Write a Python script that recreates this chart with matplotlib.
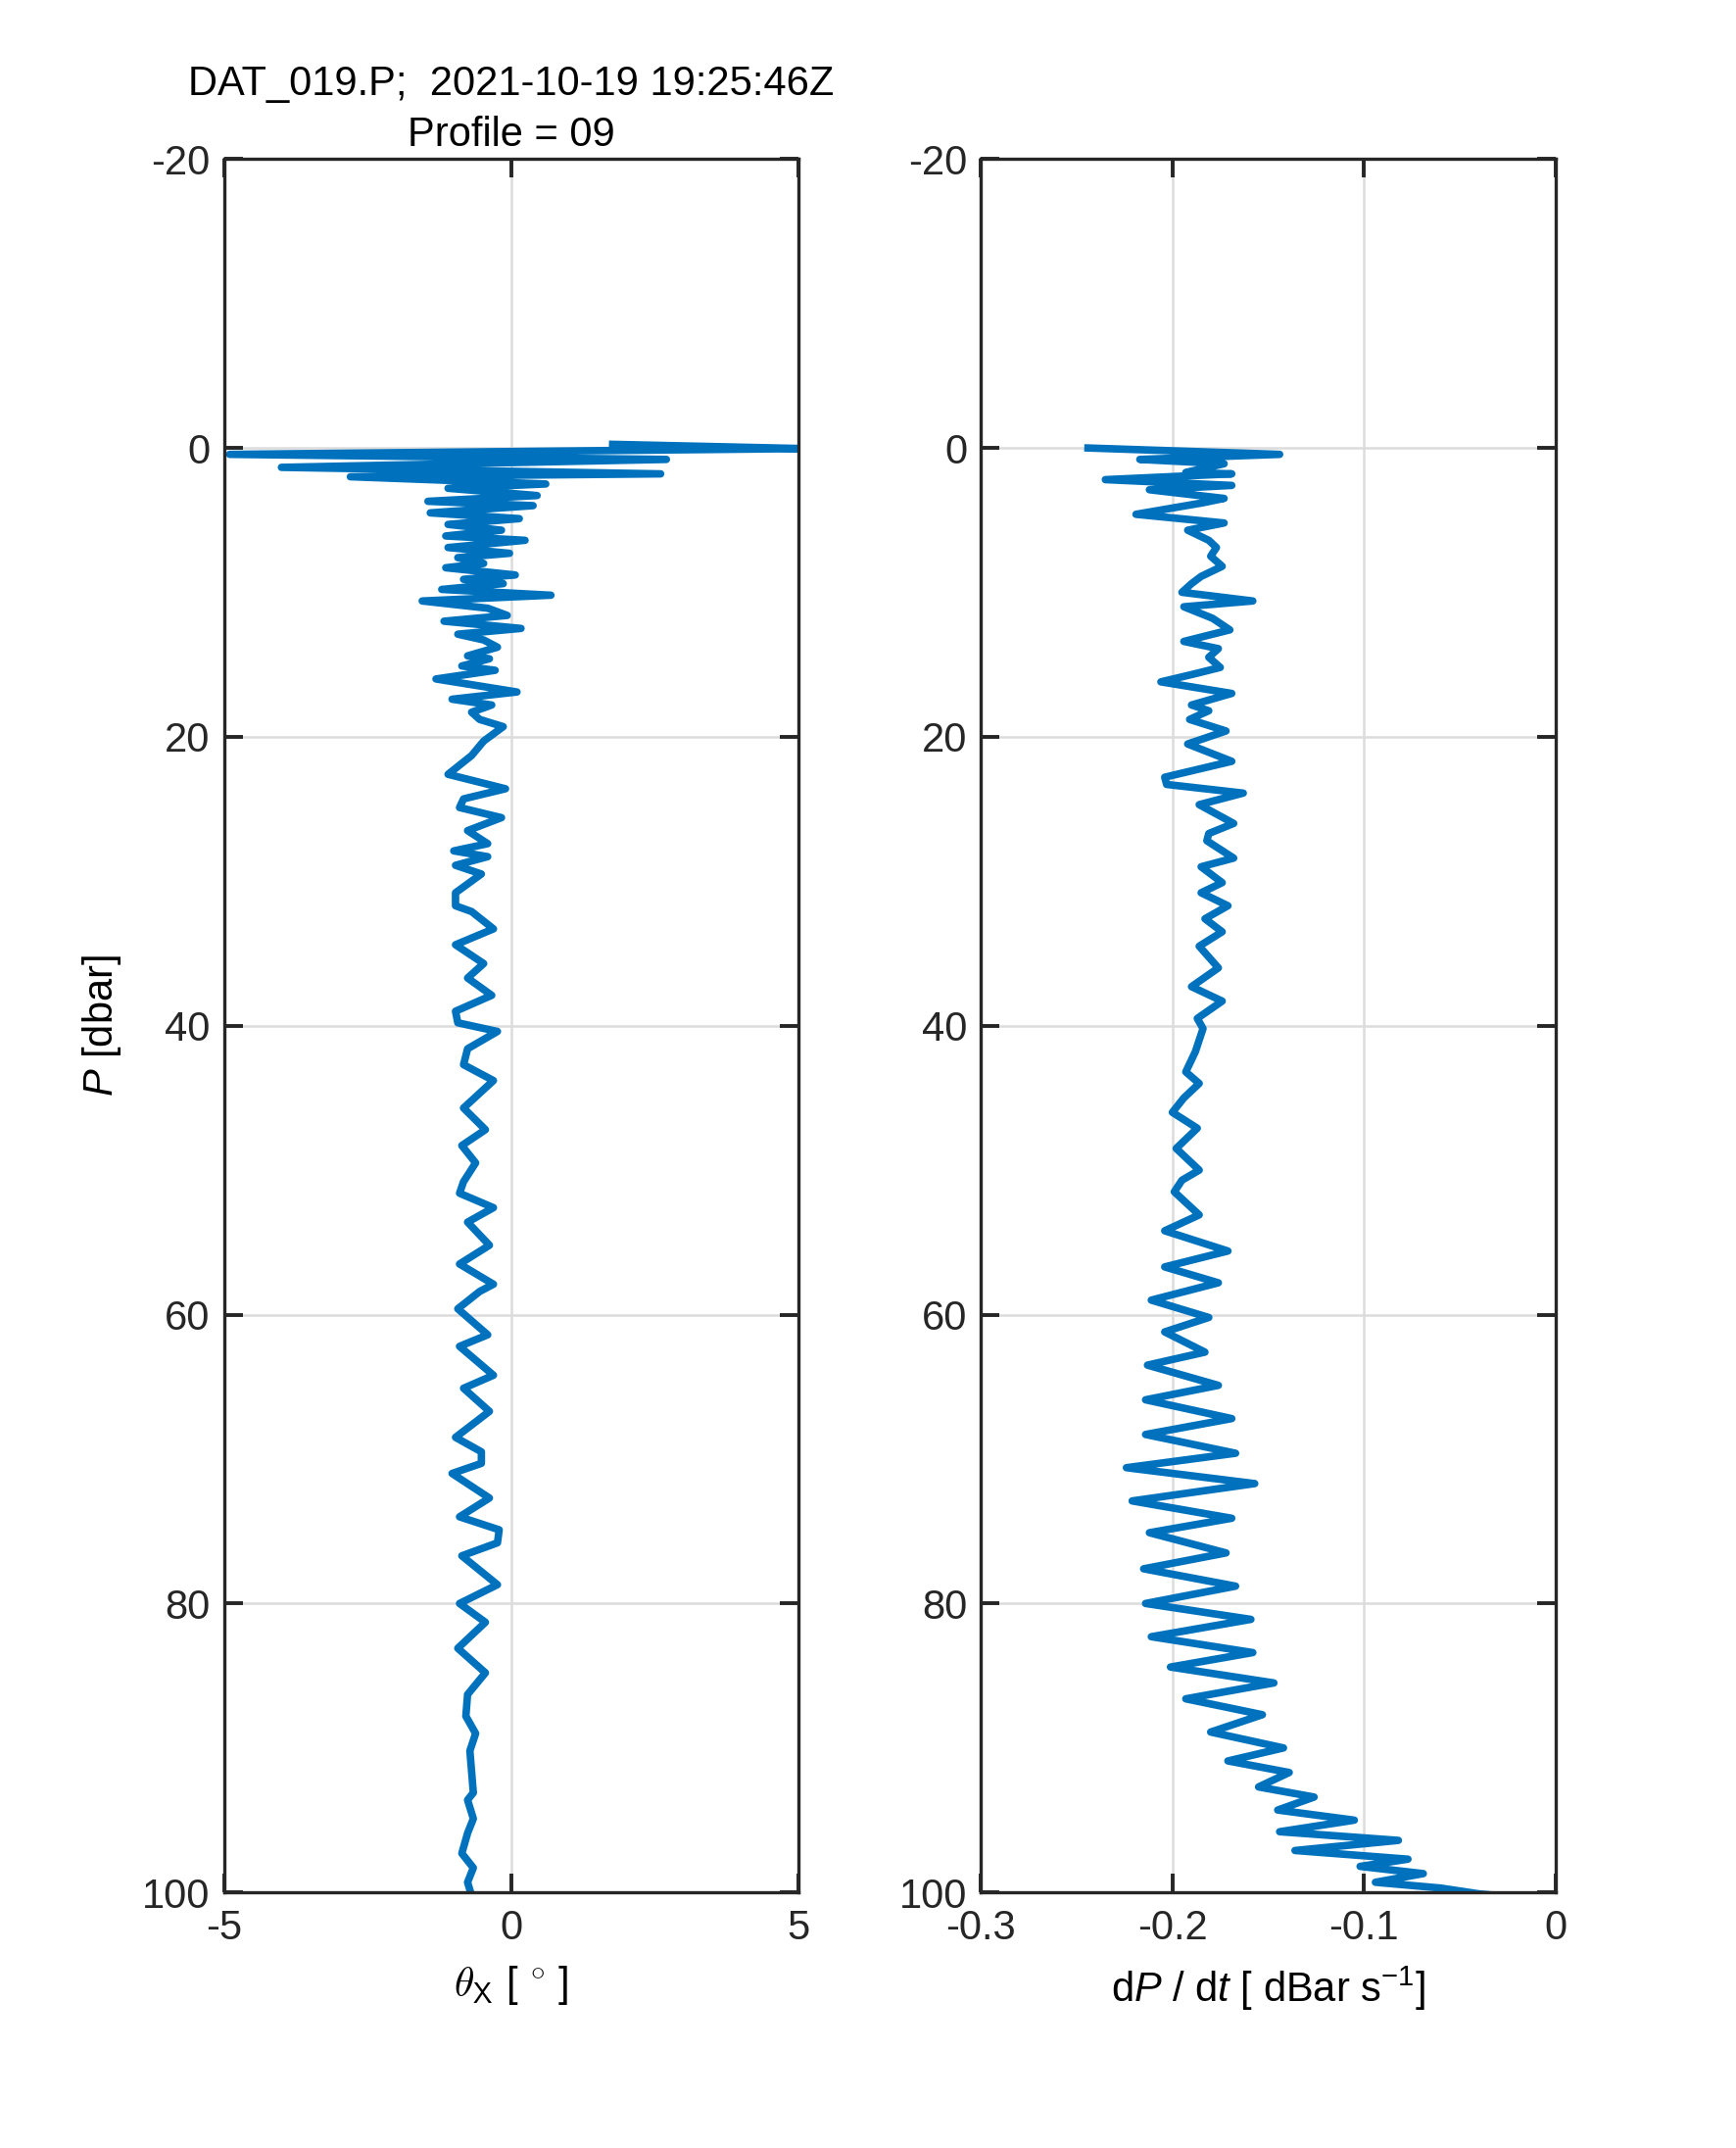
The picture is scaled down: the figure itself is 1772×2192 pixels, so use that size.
import numpy as np
import matplotlib
matplotlib.use('Agg')
import matplotlib.pyplot as plt

plt.rcParams['font.family'] = ['Liberation Sans', 'DejaVu Sans']
plt.rcParams['mathtext.fontset'] = 'custom'
plt.rcParams['mathtext.rm'] = 'Liberation Sans'
plt.rcParams['mathtext.it'] = 'Liberation Sans:italic'

# pitch angle theta_x vs pressure
p_theta = [-0.25, 0.05, 0.45, 0.8, 1.35, 1.8, 2.0, 2.5, 2.8, 3.3, 3.7, 4.0, 4.5, 4.9,
           5.3, 5.7, 6.1, 6.4, 6.9, 7.3, 7.6, 8.0, 8.3, 8.8, 9.1, 9.4, 9.8, 10.2,
           10.6, 11.1, 11.6, 12.0, 12.5, 12.9, 13.3, 13.8, 14.4, 14.6, 15.1, 15.4,
           16.0, 16.9, 17.4, 17.8, 18.3, 18.8, 19.3, 20.3, 21.3, 22.6, 23.6, 24.3,
           24.9, 25.6, 26.5, 27.4, 27.9, 28.3, 28.9, 29.5, 30.8, 31.7, 32.1, 33.3,
           34.4, 35.7, 36.7, 37.9, 39.0, 39.8, 40.4, 41.6, 42.7, 43.8, 45.7, 47.2,
           48.3, 49.5, 50.8, 51.6, 52.6, 53.6, 55.2, 56.5, 57.9, 58.4, 59.6, 61.4,
           62.2, 64.2, 65.1, 66.7, 68.5, 69.5, 70.3, 71.0, 72.7, 74.0, 74.9, 75.8,
           76.7, 78.7, 80.0, 81.3, 83.1, 84.8, 86.3, 87.8, 89.0, 90.2, 93.1, 93.6,
           94.9, 95.9, 97.3, 98.3, 99.3, 100.1]
theta_x = [1.7, 5.1, -4.9, 2.7, -4.0, 2.6, -2.8, 0.6, -1.1, 0.45, -1.45, 0.38, -1.41, 0.14,
           -1.1, -0.17, -1.14, 0.24, -1.1, -0.03, -0.93, -0.48, -1.14, 0.07, -0.83, -0.14,
           -1.21, 0.69, -1.55, -0.41, -0.07, -1.17, 0.17, -0.93, -0.48, -0.24, -0.76, -0.38,
           -0.86, -0.28, -1.31, 0.10, -1.03, -0.34, -0.69, -0.55, -0.14, -0.48, -0.69, -1.10,
           -0.10, -0.83, -0.90, -0.17, -0.76, -0.41, -1.00, -0.41, -0.97, -0.52, -0.97, -0.97,
           -0.69, -0.31, -0.97, -0.48, -0.76, -0.34, -0.97, -0.93, -0.24, -0.76, -0.83, -0.31,
           -0.83, -0.45, -0.86, -0.62, -0.83, -0.90, -0.31, -0.76, -0.38, -0.90, -0.31, -0.55,
           -0.93, -0.41, -0.90, -0.31, -0.83, -0.38, -0.97, -0.52, -0.52, -1.03, -0.38, -0.90,
           -0.21, -0.24, -0.86, -0.24, -0.90, -0.45, -0.93, -0.45, -0.76, -0.79, -0.62, -0.72,
           -0.66, -0.76, -0.66, -0.76, -0.86, -0.66, -0.76, -0.70]

# fall rate dP/dt vs pressure
p_fall = [0.0, 0.45, 0.8, 1.1, 1.7, 1.8, 2.2, 2.6, 2.9, 3.5, 3.8, 4.6, 5.2, 5.7, 6.4, 6.9,
          7.5, 8.2, 8.9, 9.4, 10.0, 10.6, 11.0, 11.8, 12.6, 13.4, 13.9, 14.5, 15.2, 15.6,
          16.2, 17.0, 17.8, 18.2, 18.8, 19.6, 20.5, 21.7, 22.8, 23.3, 23.9, 24.7, 26.0,
          26.7, 27.2, 28.4, 29.0, 30.1, 30.8, 31.7, 32.6, 33.5, 34.5, 36.0, 37.3, 38.3,
          39.5, 40.2, 41.8, 43.2, 44.0, 45.0, 46.0, 47.1, 48.5, 50.0, 50.7, 51.5, 53.1,
          54.2, 55.6, 56.7, 57.8, 59.0, 60.2, 61.2, 62.6, 63.5, 64.9, 65.9, 67.2, 68.3,
          69.6, 70.6, 71.7, 72.9, 74.1, 75.1, 76.5, 77.6, 78.8, 80.0, 81.1, 82.3, 83.4,
          84.4, 85.5, 86.6, 87.7, 88.9, 90.0, 90.9, 91.7, 92.7, 93.4, 94.3, 95.0, 95.8,
          96.4, 97.1, 97.7, 98.2, 98.7, 99.3, 99.7, 100.1, 100.3]
dpdt = [-0.246, -0.144, -0.217, -0.173, -0.193, -0.169, -0.235, -0.169, -0.212, -0.173,
        -0.184, -0.219, -0.173, -0.192, -0.181, -0.177, -0.180, -0.174, -0.185, -0.190,
        -0.195, -0.158, -0.194, -0.179, -0.170, -0.194, -0.176, -0.181, -0.175, -0.187,
        -0.206, -0.169, -0.190, -0.181, -0.191, -0.172, -0.192, -0.169, -0.204, -0.203,
        -0.163, -0.186, -0.168, -0.181, -0.182, -0.168, -0.185, -0.174, -0.185, -0.171,
        -0.183, -0.174, -0.186, -0.176, -0.190, -0.174, -0.187, -0.184, -0.188, -0.193,
        -0.186, -0.194, -0.200, -0.187, -0.198, -0.186, -0.195, -0.199, -0.186, -0.204,
        -0.171, -0.204, -0.176, -0.211, -0.181, -0.204, -0.183, -0.213, -0.176, -0.214,
        -0.169, -0.214, -0.167, -0.224, -0.157, -0.221, -0.169, -0.212, -0.172, -0.215,
        -0.167, -0.214, -0.159, -0.211, -0.158, -0.201, -0.147, -0.193, -0.153, -0.180,
        -0.142, -0.171, -0.139, -0.155, -0.126, -0.145, -0.105, -0.144, -0.082, -0.136,
        -0.077, -0.102, -0.069, -0.094, -0.060, -0.040, -0.023]

y_ticks = [-20, 0, 20, 40, 60, 80, 100]
theta_ticks = [-5, 0, 5]
fall_ticks = [-0.3, -0.2, -0.1, 0]

line_col = '#0072BD'
fs = 30

fig = plt.figure(figsize=(17.72, 21.92), dpi=100)
ax1 = fig.add_axes([0.129, 0.119, 0.331, 0.807])
ax2 = fig.add_axes([0.565, 0.119, 0.331, 0.807])


def style(ax):
    ax.set_ylim(100, -20)
    ax.set_yticks(y_ticks)
    ax.set_yticklabels([str(t) for t in y_ticks])
    ax.grid(True, color='#DCDCDC', linewidth=1.8)
    ax.set_axisbelow(True)
    for s in ax.spines.values():
        s.set_linewidth(2.4)
        s.set_color('#262626')
    ax.tick_params(direction='in', length=14, width=2.8, color='#262626',
                   labelsize=fs, labelcolor='#262626',
                   top=True, right=True)
    ax.tick_params(axis='y', pad=10)
    ax.tick_params(axis='x', pad=12)


ax1.plot(theta_x, p_theta, color=line_col, linewidth=5.5,
         solid_joinstyle='round', solid_capstyle='butt')
style(ax1)
ax1.set_xlim(-5, 5)
ax1.set_xticks(theta_ticks)
ax1.set_xticklabels(['-5', '0', '5'])
ax1.set_xlabel(r'$\theta_{\mathsf{X}}$ [ $^{\circ}$ ]', fontsize=fs,
               math_fontfamily='cm', labelpad=12)
ax1.set_ylabel(r'$P$ [dbar]', fontsize=fs, labelpad=14)
# two title lines as separate texts so the long one sits clear of the "-20" label
ax1.text(0.5, 1.043, 'DAT_019.P;  2021-10-19 19:25:46Z', transform=ax1.transAxes,
         ha='center', va='center', fontsize=fs)
ax1.text(0.5, 1.0135, 'Profile = 09', transform=ax1.transAxes,
         ha='center', va='center', fontsize=fs)

ax2.plot(dpdt, p_fall, color=line_col, linewidth=5.5,
         solid_joinstyle='round', solid_capstyle='butt')
style(ax2)
ax2.set_xlim(-0.3, 0)
ax2.set_xticks(fall_ticks)
ax2.set_xticklabels(['-0.3', '-0.2', '-0.1', '0'])
ax2.set_xlabel(r'd$P$ / d$t$ [ dBar s$^{-1}$]', fontsize=fs, labelpad=12)

fig.savefig('out.png', dpi=100, facecolor='white')
